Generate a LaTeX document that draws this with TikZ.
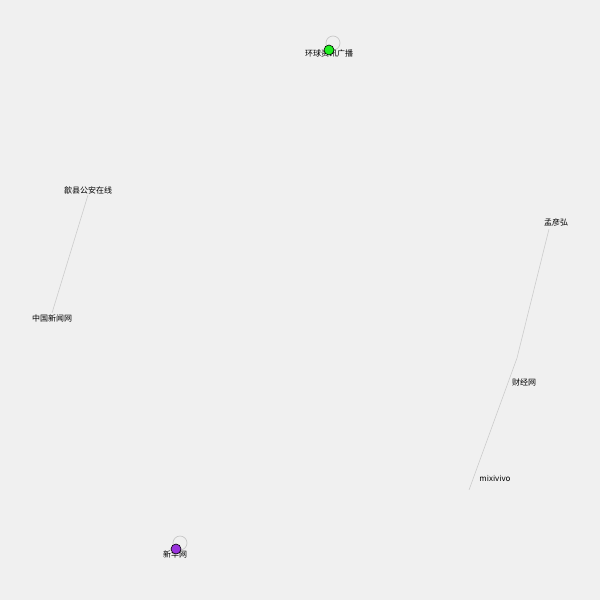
\documentclass[tikz,border=0pt]{standalone}
\usepackage{fontspec}
\setmainfont{Noto Sans CJK SC}
\usetikzlibrary{positioning}
\definecolor{bgGray}{HTML}{F0F0F0}
\definecolor{edgeGray}{HTML}{CCCCCC}
\definecolor{nodeGreen}{HTML}{22EE22}
\definecolor{nodePurple}{HTML}{9933DD}
\tikzset{
    vertexDot/.style={circle, inner sep=0pt, minimum size=10pt, draw=black, line width=0.6pt},
    vertexHidden/.style={circle, inner sep=0pt, minimum size=0pt},
    vertexLabel/.style={inner sep=0pt, font=\fontsize{8}{9}\selectfont, text=black},
    edgeLine/.style={draw=edgeGray, line width=0.6pt},
    selfLoop/.style={draw=edgeGray!80!black!60, line width=0.7pt}
}
\begin{document}
\begin{tikzpicture}[x=1pt, y=-1pt]
    \fill [bgGray] (0,0) rectangle (600,600);
    \useasboundingbox (0,0) rectangle (600,600);

    % vertices
    \node (huanqiu) [vertexHidden] at (329,50) {};
    \node (xinhua) [vertexHidden] at (176,549) {};
    \node (shexian) [vertexHidden] at (88,195) {};
    \node (zhongguo) [vertexHidden] at (52,313) {};
    \node (meng) [vertexHidden] at (549,229) {};
    \node (caijing) [vertexHidden] at (517,358) {};
    \node (mixi) [vertexHidden] at (469,490) {};

    % edges
    \draw [edgeLine] (shexian) -- (zhongguo);
    \draw [edgeLine] (meng) -- (caijing);
    \draw [edgeLine] (caijing) -- (mixi);
    \draw [selfLoop] (huanqiu) ++(4,-7) circle[radius=7];
    \draw [selfLoop] (xinhua) ++(4,-6) circle[radius=7];

    % labels
    \node (lHuanqiu) [vertexLabel] at (329,54) {环球资讯广播};
    \node (lXinhua) [vertexLabel] at (175,554) {新华网};
    \node (lShexian) [vertexLabel] at (88,190) {歙县公安在线};
    \node (lZhongguo) [vertexLabel] at (52,318) {中国新闻网};
    \node (lMeng) [vertexLabel] at (556,222) {孟彦弘};
    \node (lCaijing) [vertexLabel] at (524,382) {财经网};
    \node (lMixi) [vertexLabel] at (495,478) {mixivivo};

    % coloured vertices on top
    \node (dHuanqiu) [vertexDot, fill=nodeGreen] at (huanqiu) {};
    \node (dXinhua) [vertexDot, fill=nodePurple] at (xinhua) {};

\end{tikzpicture}
\end{document}
